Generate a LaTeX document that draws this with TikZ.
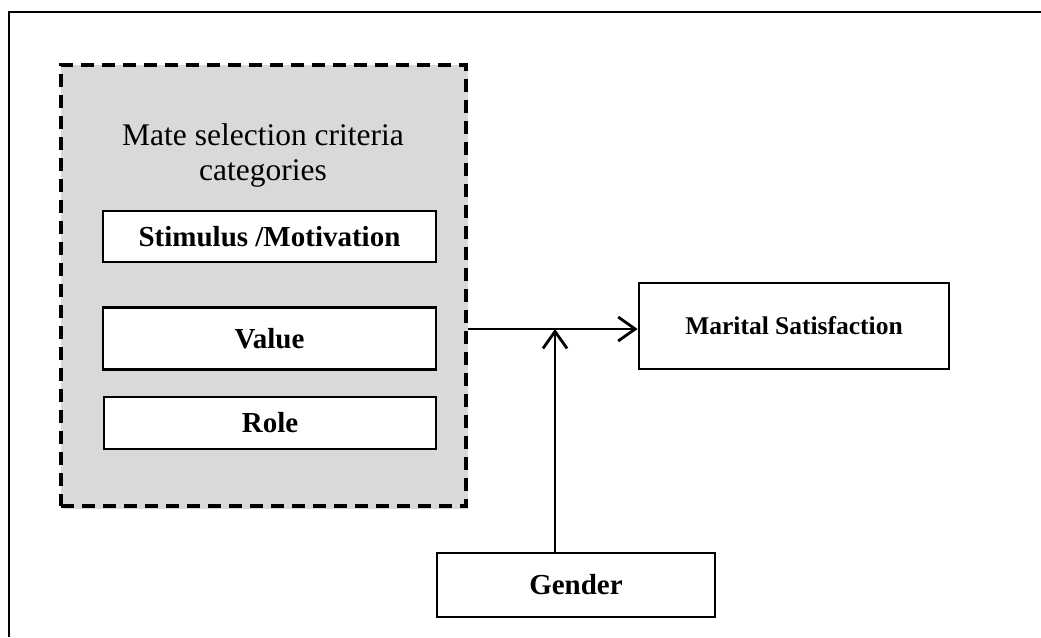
\documentclass[tikz,border=0pt]{standalone}
\usepackage{fontspec}
\setmainfont{Liberation Serif}
\usetikzlibrary{arrows.meta,shadows}

\definecolor{grpgray}{HTML}{D9D9D9}

\begin{document}
\begin{tikzpicture}[
              x = 1pt, y = -1pt,
              catbox/.style = {draw, line width=2.8pt, fill=white, inner sep=0pt,
                               font=\fontsize{29}{34}\selectfont\bfseries},
              group/.style = {draw, line width=3.5pt, dash pattern=on 13pt off 8pt,
                              fill=grpgray, inner sep=0pt,
                              drop shadow={opacity=0.3, shadow xshift=2pt, shadow yshift=-3pt}},
              link/.style = {line width=2.8pt, -{Straight Barb[length=17pt,width=24pt,line width=2.8pt]}}
            ]
  \useasboundingbox (0,0) rectangle (1041,637);
  % frame
  \draw[line width=2.2pt] (9,637) -- (9,12) -- (1041,12);

  % criteria group
  \node[group, minimum width=405pt, minimum height=441pt] (grp) at (263.5,285.5) {};
  \node[align=center, font=\fontsize{31.5}{35}\selectfont] (title) at (263,155)
    {Mate selection criteria\\categories};
  \node[catbox, minimum width=333pt, minimum height=51pt] (stim) at (269.5,236.5) {Stimulus /Motivation};
  \node[catbox, minimum width=333pt, minimum height=62pt] (val) at (269.5,338.5) {Value};
  \node[catbox, minimum width=332pt, minimum height=52pt] (role) at (270,423) {Role};

  % outcome and moderator
  \node[catbox, minimum width=310pt, minimum height=86pt,
        font=\fontsize{25.5}{30}\selectfont\bfseries] (ms) at (794,326) {Marital Satisfaction};
  \node[catbox, minimum width=278pt, minimum height=64pt] (gd) at (576,585) {Gender};

  \coordinate (jn) at (555,329);
  \draw[link] (grp.east |- jn) -- (ms.west |- jn);
  \draw[link] (gd.north -| jn) -- (jn);
\end{tikzpicture}
\end{document}
